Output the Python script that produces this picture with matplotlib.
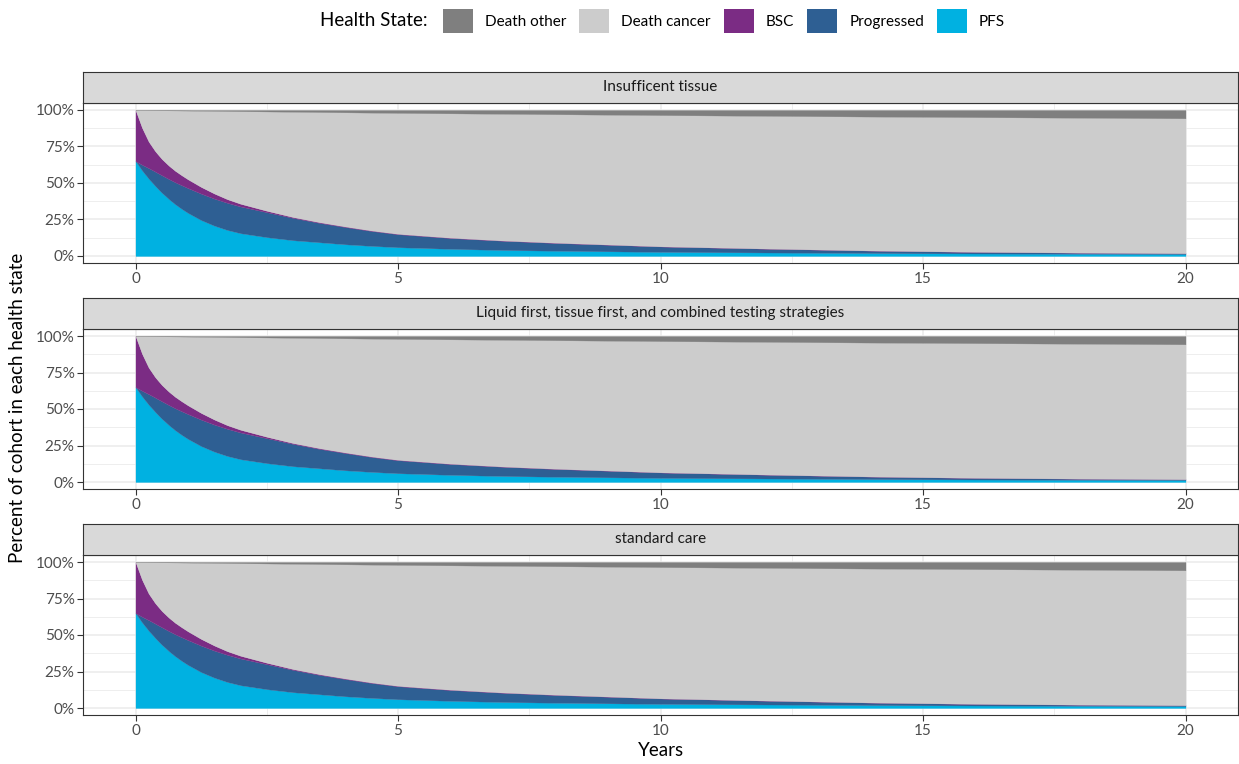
import numpy as np
import matplotlib.pyplot as plt
from matplotlib.patches import Patch

plt.rcParams['font.family'] = ['Lato', 'DejaVu Sans']

# time since start (years)
years = [0, 0.125, 0.25, 0.375, 0.5, 0.625, 0.75, 0.875, 1, 1.25, 1.5, 1.75, 2,
         2.5, 3, 3.5, 4, 4.5, 5, 6, 7, 8, 9, 10, 12, 14, 16, 18, 20]

# percent of cohort in each state
pfs = [65.0, 58.6, 53.0, 48.0, 43.4, 39.3, 35.6, 32.4, 29.5, 24.6, 20.8, 17.8, 15.6,
       12.9, 10.8, 9.4, 8.0, 6.9, 6.0, 4.9, 4.1, 3.6, 3.2, 2.8, 2.4, 2.0, 1.7, 1.5, 1.3]
progressed = [0.0, 3.9, 7.2, 9.8, 11.9, 13.6, 15.0, 16.1, 17.0, 18.1, 18.5, 18.6, 18.3,
              17.1, 15.3, 13.3, 11.8, 10.2, 8.9, 7.4, 6.3, 5.3, 4.5, 3.7, 2.6, 1.7, 1.1, 0.8, 0.6]
bsc = [35.0, 25.3, 18.2, 14.0, 11.2, 9.3, 7.9, 6.9, 6.0, 4.6, 3.5, 2.5, 1.9,
       1.0, 0.6, 0.5, 0.4, 0.35, 0.3, 0.25, 0.2, 0.2, 0.15, 0.1, 0.1, 0.05, 0.05, 0.0, 0.0]
death_other = [0.0, 0.05, 0.1, 0.15, 0.2, 0.25, 0.3, 0.35, 0.4, 0.5, 0.6, 0.7, 0.8,
               1.0, 1.2, 1.4, 1.6, 1.8, 2.0, 2.3, 2.6, 2.9, 3.2, 3.5, 4.0, 4.5, 4.9, 5.3, 5.7]
# whatever is left of the cohort died of cancer
death_cancer = list(100 - np.array(pfs) - np.array(progressed) - np.array(bsc) - np.array(death_other))

facets = ["Insufficent tissue",
          "Liquid first, tissue first, and combined testing strategies",
          "standard care"]

states = ["PFS", "Progressed", "BSC", "Death cancer", "Death other"]
series = [pfs, progressed, bsc, death_cancer, death_other]
colors = ["#00B1E1", "#2E5F93", "#7B2C84", "#CCCCCC", "#7F7F7F"]

W, H = 1239, 764
fig = plt.figure(figsize=(W / 100, H / 100), dpi=100)

left, right = 83, 1238
panel_px = [(102.7, 263.3), (328.7, 489.3), (554.7, 715.3)]
strip_h = 31

for name, (ptop, pbot) in zip(facets, panel_px):
    ax = fig.add_axes([left / W, 1 - pbot / H, (right - left) / W, (pbot - ptop) / H])
    base = np.zeros(len(years))
    for vals, col in zip(series, colors):
        top = base + np.array(vals) / 100
        ax.fill_between(years, base, top, color=col, lw=0.2, ec=col)
        base = top
    ax.set_xlim(-1, 21)
    ax.set_ylim(-0.05, 1.05)
    ax.set_xticks([0, 5, 10, 15, 20])
    ax.set_xticks([2.5, 7.5, 12.5, 17.5], minor=True)
    ax.set_yticks([0, 0.25, 0.5, 0.75, 1])
    ax.set_yticklabels(["0%", "25%", "50%", "75%", "100%"])
    ax.set_yticks([0.125, 0.375, 0.625, 0.875], minor=True)
    ax.set_axisbelow(True)
    ax.grid(which='major', color='#EBEBEB', lw=1.1)
    ax.grid(which='minor', color='#EBEBEB', lw=0.6)
    ax.tick_params(which='major', length=4, width=0.8, color='#333333',
                   labelsize=11, labelcolor='#4D4D4D', pad=2)
    ax.tick_params(which='minor', length=0)
    for sp in ax.spines.values():
        sp.set_color('#333333')
        sp.set_linewidth(0.8)

    st = fig.add_axes([left / W, 1 - ptop / H, (right - left) / W, strip_h / H])
    st.set_facecolor('#D9D9D9')
    st.set_xticks([])
    st.set_yticks([])
    for sp in st.spines.values():
        sp.set_color('#333333')
        sp.set_linewidth(0.8)
    st.text(0.5, 0.5, name, ha='center', va='center', fontsize=11,
            color='#1A1A1A', transform=st.transAxes)

fig.text(18 / W, 1 - 408 / H, "Percent of cohort in each health state",
         rotation=90, ha='center', va='center', fontsize=13.5)
fig.text(661 / W, 1 - 750 / H, "Years", ha='center', va='center', fontsize=13.5)

# legend along the top, ggplot style
handles = [Patch(facecolor=c) for c in colors[::-1]]
fig.legend(handles, states[::-1], ncol=5, loc='center',
           bbox_to_anchor=(724 / W, 1 - 21 / H), frameon=False,
           handlelength=1.95, handleheight=1.95, handletextpad=0.8,
           columnspacing=0.85, fontsize=11, borderaxespad=0)
fig.text(428 / W, 1 - 21 / H, "Health State:", ha='right', va='center', fontsize=13.5)

fig.savefig("out.png", dpi=100)
